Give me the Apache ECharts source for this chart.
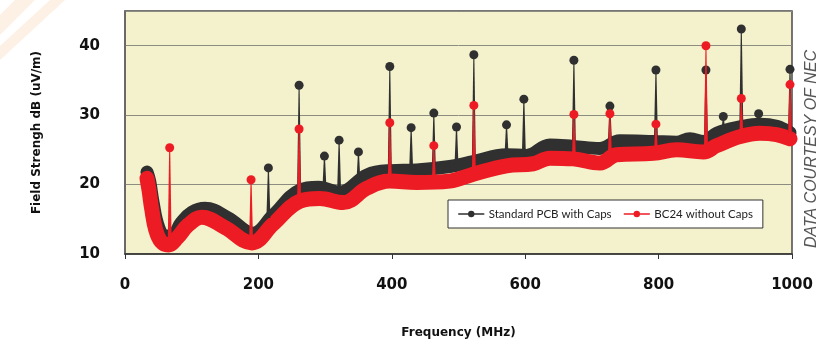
<!DOCTYPE html>
<html>
<head>
<meta charset="utf-8">
<script src="https://cdn.jsdelivr.net/npm/echarts@6/dist/echarts.min.js"></script>
<style>
  body { margin: 0; background: #fff; }
  #chart { width: 820px; height: 346px; }
</style>
</head>
<body>
<div id="chart"></div>
<script>
// base curves (MHz, dB)
var pcbFreq = [33, 37, 42, 50, 60, 70, 84, 100, 120, 155, 192, 222, 262, 290, 322, 363, 397, 437, 487, 522, 572, 602, 637, 672, 712, 742, 792, 827, 847, 867, 887, 922, 952, 977, 997];
var pcbLevel = [21.8, 20.5, 17.5, 14, 12.6, 12.6, 14.5, 16, 16.6, 15.2, 13, 15.6, 19.2, 19.6, 18.9, 21.4, 22, 22.1, 22.6, 23.3, 24.3, 24.2, 25.7, 25.5, 25.2, 26.3, 26.2, 26.1, 26.6, 26.2, 27.4, 28.3, 28.7, 28.4, 27.5];
var bcFreq = [33, 36, 40, 46, 54, 65, 78, 95, 115, 150, 190, 222, 262, 292, 327, 363, 397, 437, 487, 522, 572, 612, 637, 672, 712, 737, 792, 827, 867, 887, 922, 952, 977, 997];
var bcLevel = [20.9, 19.2, 16.5, 13.5, 11.8, 11.3, 12.3, 14.2, 15.3, 13.8, 11.6, 14.3, 17.6, 18, 17.4, 19.5, 20.5, 20.3, 20.5, 21.5, 22.7, 23, 23.8, 23.7, 23.1, 24.3, 24.5, 25, 24.7, 25.6, 26.9, 27.4, 27.2, 26.6];

// spikes: frequency, level where spike leaves the curve, peak level
var pcbSpikeFreq = [215, 261, 299, 321, 350, 397, 429, 463, 497, 523, 572, 598, 673, 727, 796, 871, 897, 924, 950, 997];
var pcbSpikeBase = [15.2, 19.2, 19.5, 18.9, 20.3, 22, 22.1, 22.3, 22.7, 23.3, 24.3, 24.2, 25.5, 26.2, 26.2, 26.3, 27.5, 28.3, 28.7, 27.5];
var pcbSpikePeak = [22.4, 34.3, 24.1, 26.4, 24.7, 37, 28.2, 30.3, 28.3, 38.7, 28.6, 32.3, 37.9, 31.3, 36.5, 36.5, 29.8, 42.4, 30.2, 36.6];
var bcSpikeFreq = [67, 189, 261, 397, 463, 523, 673, 727, 796, 871, 924, 997];
var bcSpikeBase = [11.4, 11.6, 17.6, 20.5, 20.5, 21.5, 23.7, 24.2, 24.5, 24.8, 26.9, 26.6];
var bcSpikePeak = [25.3, 20.7, 28, 28.9, 25.6, 31.4, 30.1, 30.2, 28.7, 40, 32.4, 34.4];

var xTicks = [0, 200, 400, 600, 800, 1000];
var yTicks = [10, 20, 30, 40];

var BLACK = '#303030';
var RED = '#ed1c24';
var FONT = 'DejaVu Sans';

function zip(a, b, c) {
    return a.map(function (v, i) { return c ? [v, b[i], c[i]] : [v, b[i]]; });
}

function spikeRenderer(color) {
    return function (params, api) {
        var p0 = api.coord([api.value(0), api.value(1)]);
        var p1 = api.coord([api.value(0), api.value(2)]);
        return {
            type: 'group',
            children: [
                {
                    type: 'polygon',
                    shape: { points: [[p0[0] - 2, p0[1]], [p0[0] + 2, p0[1]], [p1[0] + 0.5, p1[1]], [p1[0] - 0.5, p1[1]]] },
                    style: { fill: color }
                },
                {
                    type: 'circle',
                    shape: { cx: p1[0], cy: p1[1], r: 4.5 },
                    style: { fill: color }
                }
            ]
        };
    };
}

var myChart = echarts.init(document.getElementById('chart'));
var option = {
    animation: false,
    backgroundColor: '#fff',
    graphic: [
        { type: 'polygon', shape: { points: [[15, 0], [35, 0], [0, 35], [0, 15]] }, style: { fill: '#fdf1e6' }, z: -10 },
        { type: 'polygon', shape: { points: [[50, 0], [65, 0], [0, 60], [0, 46]] }, style: { fill: '#fdf1e6' }, z: -10 },
        {
            type: 'text',
            x: 812, y: 149,
            rotation: Math.PI / 2,
            style: {
                text: 'DATA COURTESY OF NEC',
                fill: '#555',
                font: 'italic 16px "Liberation Sans"',
                align: 'center',
                verticalAlign: 'middle'
            }
        }
    ],
    grid: {
        left: 125, right: 28, top: 11, bottom: 92,
        show: true,
        backgroundColor: '#f3f2cc',
        borderColor: '#4a4a4a',
        borderWidth: 1.5
    },
    legend: {
        left: 448, top: 200,
        padding: [8, 10],
        itemGap: 12,
        itemWidth: 25,
        itemHeight: 8,
        backgroundColor: '#fff',
        borderColor: '#333',
        borderWidth: 1,
        borderRadius: 0,
        lineStyle: { width: 1.5 },
        textStyle: { fontFamily: 'Lato', fontSize: 11.5, color: '#222' },
        data: ['Standard PCB with Caps', 'BC24 without Caps']
    },
    xAxis: {
        type: 'value',
        min: 0, max: 1000, interval: 200,
        name: 'Frequency (MHz)',
        nameLocation: 'middle',
        nameGap: 73,
        nameTextStyle: { fontFamily: FONT, fontWeight: 'bold', fontSize: 12, color: '#111' },
        axisLine: { show: true, lineStyle: { color: '#333', width: 1.5 } },
        axisTick: { show: true, length: 5, lineStyle: { color: '#333' } },
        axisLabel: {
            margin: 24,
            fontFamily: FONT, fontWeight: 'bold', fontSize: 15, color: '#111',
            formatter: function (v) { return xTicks.indexOf(v) >= 0 ? v : ''; }
        },
        splitLine: { show: false }
    },
    yAxis: {
        type: 'value',
        min: 10, max: 45, interval: 10,
        name: 'Field Strengh dB (uV/m)',
        nameLocation: 'middle',
        nameGap: 82,
        nameTextStyle: { fontFamily: FONT, fontWeight: 'bold', fontSize: 12, color: '#111' },
        axisLine: { show: true, lineStyle: { color: '#666', width: 1.5 } },
        axisTick: { show: false },
        axisLabel: {
            margin: 25,
            fontFamily: FONT, fontWeight: 'bold', fontSize: 15, color: '#111',
            formatter: function (v) { return yTicks.indexOf(v) >= 0 ? v : ''; }
        },
        splitLine: { show: true, lineStyle: { color: '#8c8c80', width: 1 } }
    },
    series: [
        {
            name: 'Standard PCB with Caps',
            type: 'line',
            smooth: 0.4,
            symbol: 'circle',
            symbolSize: 7,
            showSymbol: false,
            color: BLACK,
            lineStyle: { color: BLACK, width: 13, cap: 'round', join: 'round' },
            z: 2,
            data: zip(pcbFreq, pcbLevel)
        },
        {
            name: 'BC24 without Caps',
            type: 'line',
            smooth: 0.4,
            symbol: 'circle',
            symbolSize: 7,
            showSymbol: false,
            color: RED,
            lineStyle: { color: RED, width: 15, cap: 'round', join: 'round' },
            z: 3,
            data: zip(bcFreq, bcLevel)
        },
        {
            type: 'custom',
            renderItem: spikeRenderer(BLACK),
            z: 4,
            data: zip(pcbSpikeFreq, pcbSpikeBase, pcbSpikePeak)
        },
        {
            type: 'custom',
            renderItem: spikeRenderer(RED),
            z: 5,
            data: zip(bcSpikeFreq, bcSpikeBase, bcSpikePeak)
        }
    ]
};
myChart.setOption(option);
</script>
</body>
</html>
